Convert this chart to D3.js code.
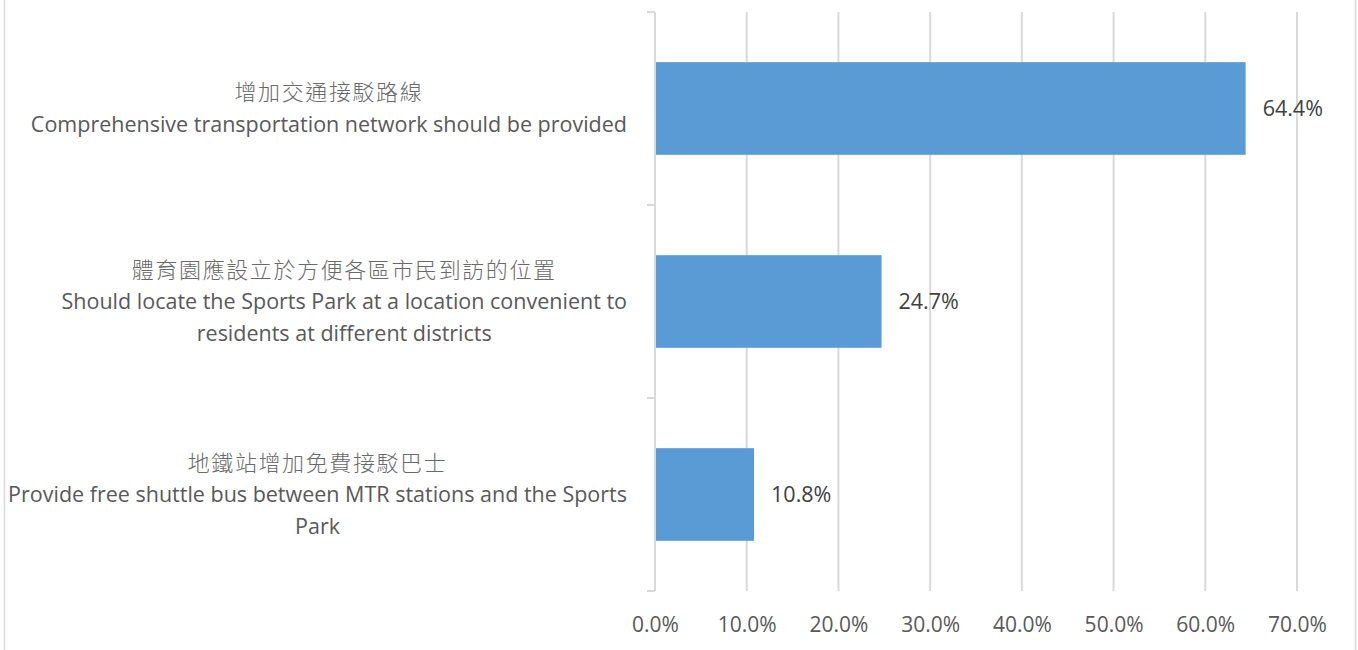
<!DOCTYPE html>
<html>
<head>
<meta charset="utf-8">
<script src="https://cdn.jsdelivr.net/npm/d3@7"></script>
<style>
  html, body { margin: 0; padding: 0; background: #fff; }
  svg { display: block; }
</style>
</head>
<body>
<svg id="chart" width="1358" height="650"></svg>
<script>
// Survey responses: suggestions on access to the Sports Park
const categoriesZh = [
  "增加交通接駁路線",
  "體育園應設立於方便各區市民到訪的位置",
  "地鐵站增加免費接駁巴士"
];
const categoriesEn = [
  ["Comprehensive transportation network should be provided"],
  ["Should locate the Sports Park at a location convenient to", "residents at different districts"],
  ["Provide free shuttle bus between MTR stations and the Sports", "Park"]
];
const shares = [0.644, 0.247, 0.108];
const tickValues = [0, 0.1, 0.2, 0.3, 0.4, 0.5, 0.6, 0.7];

const width = 1358, height = 650;
const margin = { top: 12, right: 61, bottom: 59, left: 655 };
const svg = d3.select("#chart");

const fontEn = "'Open Sans', 'Noto Sans', sans-serif";
const fontZh = "'Noto Sans CJK TC', 'Noto Sans CJK SC', sans-serif";
const textColor = "#595959";
const gridColor = "#D9D9D9";

// chart frame
svg.append("rect")
  .attr("x", 4.5).attr("y", -10)
  .attr("width", 1351).attr("height", height + 20)
  .attr("fill", "none").attr("stroke", gridColor).attr("stroke-width", 1.5);

const x = d3.scaleLinear()
  .domain([0, 0.7])
  .range([margin.left, width - margin.right]);

const keys = d3.range(shares.length);
const y = d3.scaleBand()
  .domain(keys)
  .range([margin.top, height - margin.bottom])
  .paddingInner(0.52)
  .paddingOuter(0.26);

// vertical gridlines
svg.append("g")
  .selectAll("line")
  .data(tickValues.slice(1))
  .join("line")
  .attr("x1", d => x(d)).attr("x2", d => x(d))
  .attr("y1", margin.top).attr("y2", height - margin.bottom)
  .attr("stroke", gridColor).attr("stroke-width", 2);

// bars
svg.append("g")
  .selectAll("rect")
  .data(shares)
  .join("rect")
  .attr("x", x(0) + 1)
  .attr("y", (d, i) => y(i))
  .attr("width", d => x(d) - x(0) - 1)
  .attr("height", y.bandwidth())
  .attr("fill", "#5B9BD5");

// value labels
svg.append("g")
  .selectAll("text")
  .data(shares)
  .join("text")
  .attr("x", d => x(d) + 17)
  .attr("y", (d, i) => y(i) + y.bandwidth() / 2)
  .attr("dy", "0.35em")
  .attr("font-family", fontEn)
  .attr("font-size", 21.5)
  .attr("fill", "#404040")
  .text(d => (d * 100).toFixed(1) + "%");

// category axis line with tick marks between bands
const boundaries = d3.range(shares.length + 1).map(i => margin.top + i * (height - margin.bottom - margin.top) / shares.length);
const axisG = svg.append("g");
axisG.append("line")
  .attr("x1", x(0)).attr("x2", x(0))
  .attr("y1", margin.top).attr("y2", height - margin.bottom)
  .attr("stroke", gridColor).attr("stroke-width", 2);
axisG.selectAll("line.tick")
  .data(boundaries)
  .join("line")
  .attr("class", "tick")
  .attr("x1", x(0) - 8).attr("x2", x(0))
  .attr("y1", d => d).attr("y2", d => d)
  .attr("stroke", gridColor).attr("stroke-width", 2);

// value axis tick labels
const xAxis = d3.axisBottom(x)
  .tickValues(tickValues)
  .tickFormat(d => (d * 100).toFixed(1) + "%")
  .tickSize(0)
  .tickPadding(0);
const xg = svg.append("g")
  .attr("transform", `translate(0,${height - margin.bottom + 25})`)
  .call(xAxis);
xg.select(".domain").remove();
xg.selectAll("text")
  .attr("font-family", fontEn)
  .attr("font-size", 21)
  .attr("fill", textColor)
  .attr("dy", "0.35em")
  .attr("y", 9);

// category labels: Chinese line above English lines, centred in a box right-aligned to the axis
const labelRight = x(0) - 28;
const lineGap = 31.5;
keys.forEach(i => {
  const g = svg.append("g");
  const lines = [{ t: categoriesZh[i], zh: true }].concat(categoriesEn[i].map(t => ({ t, zh: false })));
  const texts = g.selectAll("text")
    .data(lines)
    .join("text")
    .attr("font-family", d => d.zh ? fontZh : fontEn)
    .attr("font-size", d => d.zh ? 22 : 21.5)
    .attr("font-weight", d => d.zh ? 300 : 400)
    .attr("letter-spacing", d => d.zh ? 1.6 : 0)
    .attr("fill", d => d.zh ? "#6a6a6a" : textColor)
    .attr("text-anchor", "middle")
    .attr("dy", "0.35em")
    .text(d => d.t);
  const widths = texts.nodes().map(n => n.getComputedTextLength());
  const boxW = d3.max(widths);
  const cx = labelRight - boxW / 2;
  const cy = y(i) + y.bandwidth() / 2;
  const n = lines.length;
  texts
    .attr("x", cx)
    .attr("y", (d, j) => cy + (j - (n - 1) / 2) * lineGap);
});
</script>
</body>
</html>
